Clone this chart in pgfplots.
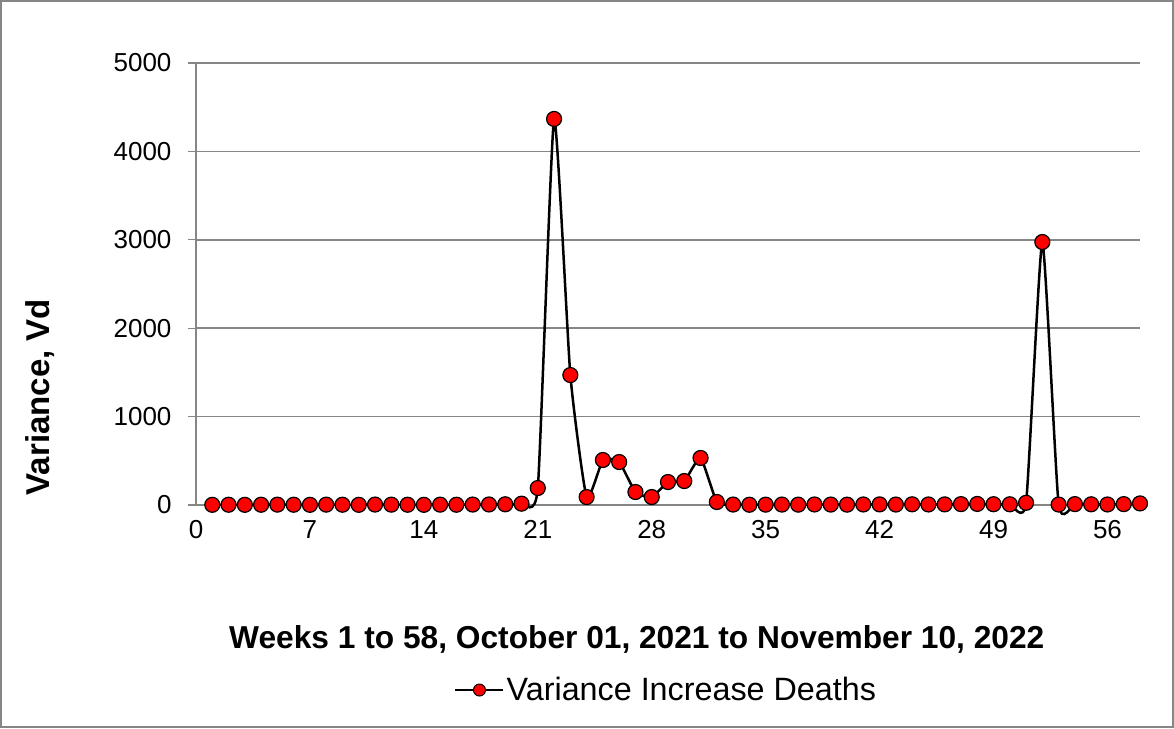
\documentclass[border=0pt]{standalone}
\usepackage{fontspec}
\setmainfont{Liberation Sans}
\usepackage{pgfplots}
\pgfplotsset{compat=1.18}
\definecolor{gridgray}{RGB}{134,134,134}
\begin{document}
\begin{tikzpicture}[x=1pt,y=1pt]
\useasboundingbox (0,0) rectangle (1174,728);
\draw[gridgray, line width=1.2pt] (1,1) rectangle (1173,727);
\begin{axis}[
  at={(196pt,223pt)}, anchor=south west,
  scale only axis, width=944pt, height=442pt,
  xmin=0, xmax=58, ymin=0, ymax=5000,
  xtick={0,7,...,56}, ytick={0,1000,...,5000},
  axis lines*=left,
  axis line style={gridgray, line width=1.3pt, -},
  ymajorgrids, major grid style={gridgray, line width=1.5pt},
  xtick style={draw=none},
  ytick style={gridgray, line width=1.3pt},
  major tick length=8pt, tick align=outside,
  tick label style={font=\fontsize{26}{30}\selectfont},
  /pgf/number format/assume math mode=true,
  scaled y ticks=false,
  yticklabel style={/pgf/number format/1000 sep={}, xshift=-13pt},
  xticklabel style={yshift=-4pt},
  xlabel={\bfseries Weeks 1 to 58, October 01, 2021 to November 10, 2022},
  xlabel style={font=\fontsize{31.7}{36}\selectfont, at={(axis description cs:0.467,-0.305)}, anchor=center},
  ylabel={\bfseries Variance, Vd},
  ylabel style={font=\fontsize{33}{38}\selectfont, at={(axis description cs:-0.165,0.244)}, anchor=center, rotate=0},
  legend style={draw=none, fill=none, at={(axis description cs:0.498,-0.4186)}, anchor=center,
    font=\fontsize{32.3}{37}\selectfont, inner sep=0pt},
  legend image code/.code={
    \draw[black, line width=2.5pt] (0pt,0pt) -- (48pt,0pt);
    \fill[red, draw=black, line width=1pt] (24pt,0pt) circle (6pt);
  },
  legend cell align=left,
  clip=false,
]
\addplot[black, line width=2.5pt, smooth, tension=0.3, mark=*, mark size=7.5pt,
  mark options={fill=red, draw=black, line width=1.2pt}]
coordinates {
(1,2) (2,3) (3,2) (4,3) (5,4) (6,3) (7,2) (8,4) (9,3) (10,2)
(11,5) (12,4) (13,3) (14,2) (15,4) (16,3) (17,5) (18,6) (19,8) (20,15)
(21,192) (22,4367) (23,1470) (24,90) (25,509) (26,486) (27,147) (28,90) (29,260) (30,271)
(31,532) (32,34) (33,5) (34,3) (35,4) (36,5) (37,4) (38,6) (39,5) (40,4)
(41,6) (42,7) (43,5) (44,8) (45,6) (46,7) (47,10) (48,12) (49,9) (50,8)
(51,25) (52,2975) (53,5) (54,10) (55,8) (56,6) (57,10) (58,18)
};
\addlegendentry{Variance Increase Deaths}
\end{axis}
\end{tikzpicture}
\end{document}
